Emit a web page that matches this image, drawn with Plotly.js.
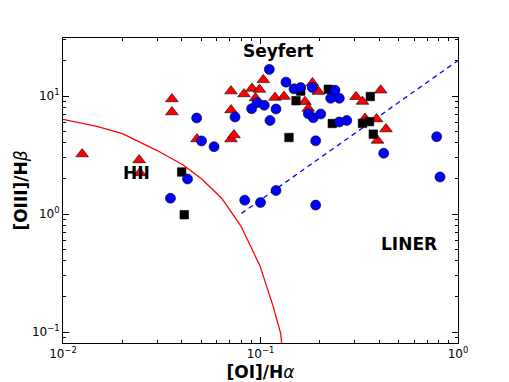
<!DOCTYPE html>
<html>
<head>
<meta charset="utf-8">
<script src="https://cdn.plot.ly/plotly-3.0.1.min.js"></script>
<style>html,body{margin:0;padding:0;background:#fff}</style>
</head>
<body>
<div id="chart" style="width:509px;height:382px"></div>
<script>
// [OI]/Halpha vs [OIII]/Hbeta diagnostic diagram

// red triangles
const triX = [0.0125, 0.0243, 0.0245, 0.0356, 0.0356, 0.0477, 0.0709, 0.0709, 0.0709, 0.0734,
              0.0825, 0.0906, 0.0943, 0.0988, 0.1033, 0.1184, 0.1315, 0.1833, 0.1962, 0.168,
              0.1746, 0.3045, 0.3284, 0.4061, 0.3381, 0.3868, 0.4318, 0.3914];
const triY = [3.22, 2.87, 2.23, 9.43, 7.32, 4.32, 11.0, 7.61, 4.32, 4.67,
              10.4, 11.6, 9.62, 11.35, 13.7, 9.71, 9.90, 12.9, 10.9, 8.95,
              7.84, 9.86, 8.98, 11.2, 6.45, 6.38, 5.25, 4.20];

// black squares
const sqX = [0.0399, 0.0411, 0.1394, 0.1598, 0.1513, 0.2205, 0.2309, 0.3597, 0.3284, 0.3564, 0.3725];
const sqY = [2.27, 0.986, 4.45, 11.0, 9.12, 11.4, 5.85, 9.90, 5.87, 6.06, 4.75];

// blue circles
const circX = [0.035, 0.0427, 0.0475, 0.0503, 0.0582, 0.0743, 0.0832, 0.0902, 0.096, 0.100,
               0.1045, 0.1108, 0.1117, 0.1198, 0.1198, 0.1346, 0.1478, 0.1598, 0.1746, 0.1829,
               0.185, 0.1903, 0.1903, 0.2018, 0.2267, 0.2383, 0.2506, 0.2506, 0.2733, 0.4206,
               0.78, 0.811];
const circY = [1.36, 1.98, 6.51, 4.16, 3.72, 6.64, 1.31, 7.81, 8.77, 1.25,
               8.34, 16.8, 6.20, 7.76, 1.58, 13.1, 11.5, 11.8, 7.08, 11.8,
               6.55, 4.17, 1.19, 7.04, 9.56, 11.2, 9.56, 6.02, 6.20, 3.27,
               4.52, 2.06];

// HII / AGN boundary (red) and Seyfert / LINER line (blue dashed)
const hiiLineX = [0.01, 0.015, 0.02, 0.0245, 0.03, 0.0406, 0.0504, 0.0636, 0.0796, 0.0993, 0.116, 0.1265, 0.128];
const hiiLineY = [6.35, 5.5, 4.8, 4.1, 3.45, 2.6, 1.98, 1.36, 0.79, 0.365, 0.164, 0.0975, 0.08];
const linerLineX = [0.08, 1.0];
const linerLineY = [1.01, 20];

const xTickVals = [0.01, 0.1, 1];
const xTickText = ['10<sup>\u22122</sup>', '10<sup>\u22121</sup>', '10<sup>0</sup>'];
const yTickVals = [0.1, 1, 10];
const yTickText = ['10<sup>\u22121</sup>', '10<sup>0</sup>', '10<sup>1</sup>'];

const data = [
    {
        x: hiiLineX, y: hiiLineY, mode: 'lines', type: 'scatter',
        line: { color: '#ff0000', width: 1.3 }, hoverinfo: 'skip'
    },
    {
        x: linerLineX, y: linerLineY, mode: 'lines', type: 'scatter',
        line: { color: '#0000ff', width: 1.3, dash: '5px,4px' }, hoverinfo: 'skip'
    },
    {
        x: triX, y: triY, mode: 'markers', type: 'scatter',
        marker: { symbol: 'triangle-up', size: 11, color: '#ff0000', line: { color: '#000', width: 0.6 } }
    },
    {
        x: sqX, y: sqY, mode: 'markers', type: 'scatter',
        marker: { symbol: 'square', size: 8.5, color: '#000000', line: { color: '#000', width: 0.6 } }
    },
    {
        x: circX, y: circY, mode: 'markers', type: 'scatter',
        marker: { symbol: 'circle', size: 10, color: '#0000ff', line: { color: '#000', width: 0.6 } }
    }
];

const axisCommon = {
    type: 'log',
    showgrid: false,
    zeroline: false,
    showline: true,
    linecolor: '#000',
    linewidth: 1,
    mirror: 'ticks',
    ticks: 'inside',
    ticklen: 6,
    tickwidth: 1,
    tickcolor: '#000',
    tickmode: 'array',
    tickfont: { family: 'DejaVu Sans', size: 12, color: '#000' },
    minor: { ticks: 'inside', ticklen: 3, tickwidth: 1, tickcolor: '#000', dtick: 'D1', showgrid: false }
};

const layout = {
    width: 509,
    height: 382,
    showlegend: false,
    paper_bgcolor: '#fff',
    plot_bgcolor: '#fff',
    margin: { l: 63, r: 51, t: 38, b: 39 },
    font: { family: 'DejaVu Sans', color: '#000' },
    xaxis: Object.assign({}, axisCommon, {
        range: [-2, 0],
        tickvals: xTickVals,
        ticktext: xTickText,
        title: { text: '<b>[OI]/H</b><i>\u03b1</i>', font: { size: 17, family: 'DejaVu Sans' }, standoff: 6 }
    }),
    yaxis: Object.assign({}, axisCommon, {
        range: [-1.093, 1.4915],
        tickvals: yTickVals,
        ticktext: yTickText,
        title: { text: '<b>[OIII]/H</b><i>\u03b2</i>', font: { size: 17, family: 'DejaVu Sans' }, standoff: 0 }
    }),
    annotations: [
        { x: Math.log10(0.1227), y: Math.log10(24.1), xref: 'x', yref: 'y', text: '<b>Seyfert</b>', showarrow: false, font: { size: 17 } },
        { x: Math.log10(0.0236), y: Math.log10(2.23), xref: 'x', yref: 'y', text: '<b>HII</b>', showarrow: false, font: { size: 17 } },
        { x: Math.log10(0.5615), y: Math.log10(0.562), xref: 'x', yref: 'y', text: '<b>LINER</b>', showarrow: false, font: { size: 17 } }
    ]
};

Plotly.newPlot('chart', data, layout, { displayModeBar: false, staticPlot: true });
</script>
</body>
</html>
